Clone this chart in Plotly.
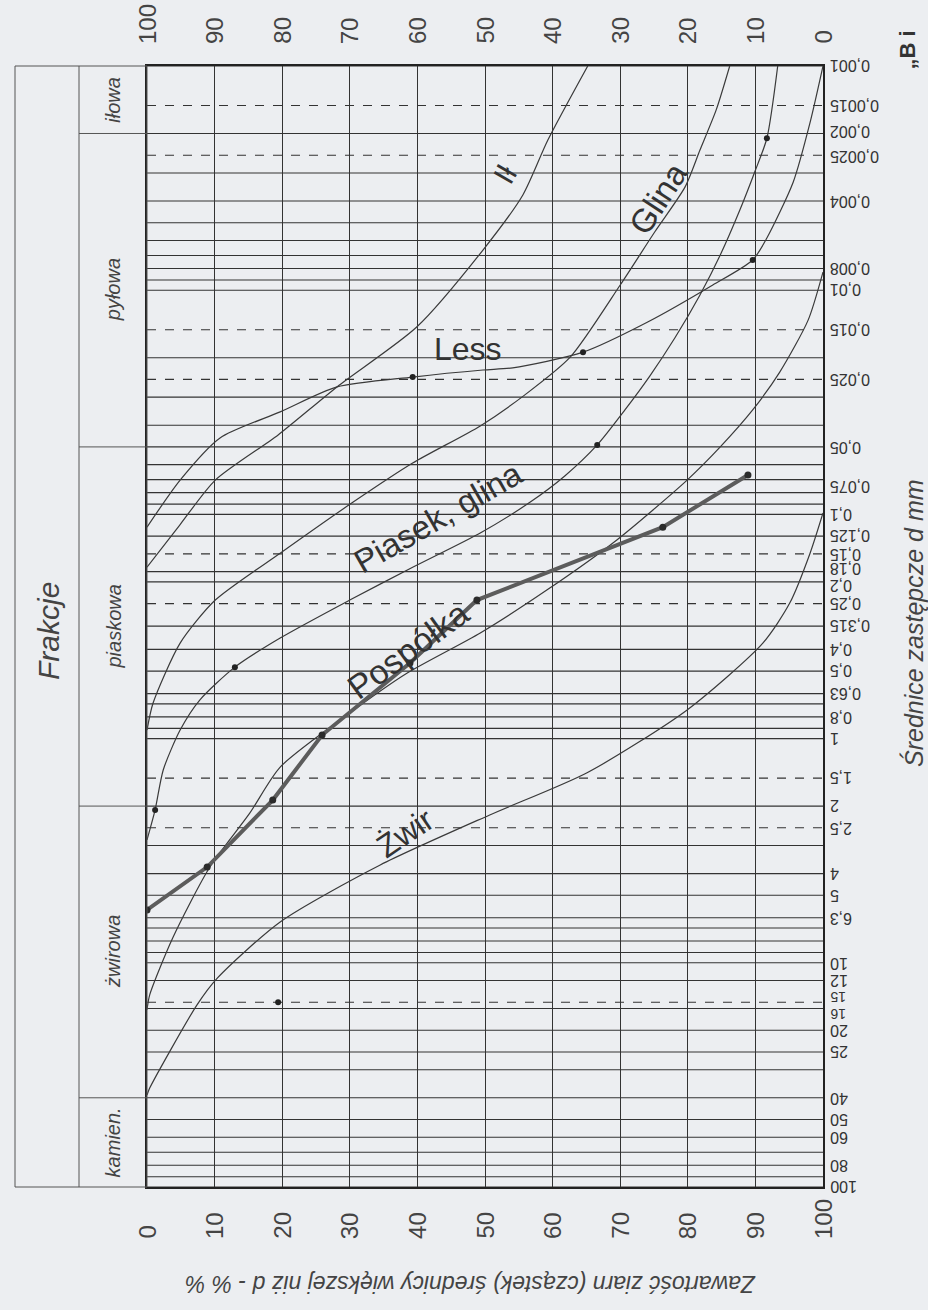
import math
import plotly.graph_objects as go

# ---------------- data ----------------
# percent axis (bottom: % larger than d; top: complement)
pct_ticks = [0, 10, 20, 30, 40, 50, 60, 70, 80, 90, 100]

# horizontal grid lines (grain diameter, mm)
grid_solid = [0.001, 0.002, 0.003, 0.004, 0.005, 0.006, 0.007, 0.008, 0.009,
              0.01, 0.02, 0.03, 0.04, 0.05, 0.06, 0.07, 0.08, 0.09,
              0.1, 0.125, 0.18, 0.2, 0.315, 0.4, 0.5, 0.63, 0.7, 0.8, 0.9,
              1, 2, 3, 4, 5, 6.3, 7, 8, 9,
              10, 12, 16, 20, 25, 30, 40, 50, 60, 70, 80, 90, 100]
grid_dashed = [0.0015, 0.0025, 0.015, 0.025, 0.15, 0.25, 1.5, 2.5, 15]

diam_tick_vals = [0.001, 0.0015, 0.002, 0.0025, 0.004, 0.008, 0.01, 0.015, 0.025,
                  0.05, 0.075, 0.1, 0.125, 0.15, 0.18, 0.2, 0.25, 0.315, 0.4, 0.5,
                  0.63, 0.8, 1, 1.5, 2, 2.5, 4, 5, 6.3, 10, 12, 15, 16, 20, 25,
                  40, 50, 60, 80, 100]
diam_tick_text = ["0,001", "0,0015", "0,002", "0,0025", "0,004", "0,008", "0,01",
                  "0,015", "0,025", "0,05", "0,075", "0,1", "0,125", "0,15", "0,18",
                  "0,2", "0,25", "0,315", "0,4", "0,5", "0,63", "0,8", "1", "1,5",
                  "2", "2,5", "4", "5", "6,3", "10", "12", "15", "16", "20", "25",
                  "40", "50", "60", "80", "100"]

# fractions (Frakcje)
fraction_bounds = [0.001, 0.002, 0.05, 2, 40, 100]
fraction_names = ["iłowa", "pyłowa", "piaskowa", "żwirowa", "kamien."]

# grading curves: % of grains larger than d  vs  d [mm]
il_pct = [65.2, 59.3, 55.6, 49.7, 39.9, 28.1, 19.4, 10.1, 4.9, 0]
il_d = [0.001, 0.00214, 0.00376, 0.00662, 0.0146, 0.027, 0.0442, 0.0703, 0.111, 0.172]

less_pct = [100, 98.1, 95.6, 91.7, 89.6, 83.7, 74.0, 64.5, 54.1, 49.7, 39.3, 28.1, 19.7, 10.8, 4.9, 0]
less_d = [0.001, 0.00178, 0.00329, 0.00585, 0.00733, 0.00948, 0.0139, 0.0189, 0.0222,
          0.0227, 0.0244, 0.027, 0.0349, 0.0456, 0.0703, 0.114]
less_dot_pct = [89.6, 64.5, 39.3]
less_dot_d = [0.00733, 0.0189, 0.0244]

glina_pct = [86.2, 84.2, 81.8, 79.6, 75.1, 70.0, 62.6, 55.9, 49.3, 39.3, 30.5, 19.7,
             10.1, 4.9, 0.9, 0]
glina_d = [0.001, 0.00157, 0.00237, 0.00346, 0.0055, 0.00948, 0.0199, 0.0293, 0.0403,
           0.059, 0.0881, 0.149, 0.241, 0.375, 0.694, 0.916]

pg_pct = [93.3, 91.7, 89.9, 87.7, 84.8, 81.8, 78.1, 74.4, 70.7, 66.6, 61.8, 56.7, 49.3,
          39.3, 30.0, 19.7, 13.0, 7.8, 4.9, 2.4, 1.2, 0]
pg_d = [0.001, 0.0021, 0.00297, 0.00439, 0.00697, 0.0105, 0.0163, 0.0241, 0.0342, 0.049,
        0.0674, 0.0881, 0.121, 0.172, 0.241, 0.356, 0.48, 0.673, 0.916, 1.38, 2.08, 2.83]
pg_dot_pct = [91.7, 66.6, 13.0, 1.2]
pg_dot_d = [0.0021, 0.049, 0.48, 2.08]

pospolka_pct = [88.9, 76.3, 48.8, 38.9, 25.9, 18.6, 8.9, 0]
pospolka_d = [0.0667, 0.114, 0.241, 0.46, 0.964, 1.88, 3.74, 5.81]

c4_pct = [100, 97.8, 93.6, 89.6, 84.8, 79.9, 69.5, 59.2, 49.3, 38.5, 30.0, 19.7, 15.2,
          9.3, 3.8, 0.4, 0]
c4_d = [0.0083, 0.0136, 0.0232, 0.0342, 0.050, 0.0703, 0.130, 0.217, 0.338, 0.51, 0.769,
        1.34, 2.15, 3.74, 7.75, 13.9, 16.2]

zwir_pct = [100, 98.1, 95.1, 91.1, 79.9, 65.1, 50.7, 34.5, 19.7, 10.4, 7.4, 0.4, 0]
zwir_d = [0.0986, 0.1486, 0.248, 0.375, 0.745, 1.42, 2.19, 3.66, 6.57, 11.7, 15.4, 36.2, 38.9]

stray_pct = [19.4]
stray_d = [15.0]

curve_labels = ["Ił", "Glina", "Less", "Piasek, glina", "Pospółka", "Żwir"]
# ---------------------------------------

INK = "#333333"
PAPER = "#eceef1"
FONT = "Liberation Sans, Arial, sans-serif"
YLOG_MIN, YLOG_MAX = -3, 2          # log10 of 0.001 and 100

L, T = 147, 66
W, H = 676, 1121


def px2paper_x(px):
    return (px - L) / W


def px2paper_y(py):
    return (T + H - py) / H


def d2paper_y(d):
    return (YLOG_MAX - math.log10(d)) / (YLOG_MAX - YLOG_MIN)


fig = go.Figure()

# horizontal grid lines as traces
def hlines(vals):
    xs, ys = [], []
    for v in vals:
        xs += [0, 100, None]
        ys += [v, v, None]
    return xs, ys

gx, gy = hlines(grid_solid)
fig.add_trace(go.Scatter(x=gx, y=gy, mode="lines", line=dict(color=INK, width=1.1),
                         hoverinfo="skip", showlegend=False))
gx, gy = hlines(grid_dashed)
fig.add_trace(go.Scatter(x=gx, y=gy, mode="lines",
                         line=dict(color=INK, width=1.1, dash="dash"),
                         hoverinfo="skip", showlegend=False))

thin = dict(color="#3a3a3a", width=1.2, shape="spline", smoothing=0.7)
for px_, d_ in [(il_pct, il_d), (less_pct, less_d), (glina_pct, glina_d),
                (pg_pct, pg_d), (c4_pct, c4_d), (zwir_pct, zwir_d)]:
    fig.add_trace(go.Scatter(x=px_, y=d_, mode="lines", line=thin,
                             hoverinfo="skip", showlegend=False))

fig.add_trace(go.Scatter(x=pospolka_pct, y=pospolka_d, mode="lines+markers",
                         line=dict(color="#5c5c5c", width=4),
                         marker=dict(color="#2b2b2b", size=7),
                         showlegend=False))
for px_, d_ in [(less_dot_pct, less_dot_d), (pg_dot_pct, pg_dot_d), (stray_pct, stray_d)]:
    fig.add_trace(go.Scatter(x=px_, y=d_, mode="markers",
                             marker=dict(color="#222222", size=6), showlegend=False))

shapes = []
# left "Frakcje" panel
panel_left = px2paper_x(15)
panel_mid = px2paper_x(79)
shapes.append(dict(type="rect", xref="paper", yref="paper", x0=panel_left, x1=0,
                   y0=0, y1=1, line=dict(color="#555555", width=1)))
shapes.append(dict(type="line", xref="paper", yref="paper", x0=panel_mid, x1=panel_mid,
                   y0=0, y1=1, line=dict(color="#555555", width=1)))
for b in fraction_bounds[1:-1]:
    yb = d2paper_y(b)
    shapes.append(dict(type="line", xref="paper", yref="paper", x0=panel_mid, x1=0,
                       y0=yb, y1=yb, line=dict(color="#555555", width=1)))

ann = []
# fraction names
for i, name in enumerate(fraction_names):
    ymid = (d2paper_y(fraction_bounds[i]) + d2paper_y(fraction_bounds[i + 1])) / 2
    ann.append(dict(x=px2paper_x(113), xref="paper", xanchor="center",
                    y=ymid, yref="paper", yanchor="middle",
                    text="<i>" + name + "</i>", textangle=-90, showarrow=False,
                    font=dict(size=20, color="#444444")))
ann.append(dict(x=px2paper_x(48), xref="paper", xanchor="center",
                y=px2paper_y(631), yref="paper", yanchor="middle",
                text="<i>Frakcje</i>", textangle=-90, showarrow=False,
                font=dict(size=30, color="#444444")))

# percent labels bottom / top
for v in pct_ticks:
    ann.append(dict(x=v, xref="x", xanchor="center", y=0, yref="paper",
                    yanchor="bottom", yshift=-54,
                    text=str(v), textangle=-90, showarrow=False,
                    font=dict(size=24, color="#444444")))
    ann.append(dict(x=v, xref="x", xanchor="center", y=1, yref="paper",
                    yanchor="bottom", yshift=20,
                    text=str(100 - v), textangle=-90, showarrow=False,
                    font=dict(size=24, color="#444444")))

# diameter labels (upside down)
nudge = {"0,18": 3, "0,2": -3, "15": 6, "16": -6, "0,002": 2, "0,0025": -2}
small = {"15", "16"}
for v, t in zip(diam_tick_vals, diam_tick_text):
    ann.append(dict(x=1, xref="paper", xanchor="left", xshift=5,
                    y=d2paper_y(v), yref="paper", yanchor="middle",
                    yshift=nudge.get(t, 0),
                    text=t, textangle=180, showarrow=False,
                    font=dict(size=14 if t in small else 16, color="#333333")))

# axis titles
ann.append(dict(x=px2paper_x(913), xref="paper", xanchor="center",
                y=px2paper_y(623), yref="paper", yanchor="middle",
                text="<i>Średnice zastępcze d mm</i>", textangle=-90, showarrow=False,
                font=dict(size=25, color="#444444")))
ann.append(dict(x=px2paper_x(471), xref="paper", xanchor="center",
                y=px2paper_y(1284), yref="paper", yanchor="middle",
                text="<i>Zawartość ziarn (cząstek) średnicy większej niż d - % %</i>",
                textangle=180, showarrow=False, font=dict(size=23, color="#444444")))
ann.append(dict(x=px2paper_x(907), xref="paper", xanchor="center",
                y=px2paper_y(72), yref="paper", yanchor="bottom",
                text="<b>„B i</b>", textangle=-90, showarrow=False,
                font=dict(size=22, color="#333333")))

# curve labels
label_pos = [(53.0, -2.514, -60, 30), (75.6, -2.411, -57, 33), (47.5, -1.738, 0, 32),
             (43.0, -0.988, -30, 33), (38.6, -0.395, -36, 34), (38.2, 0.421, -34, 32)]
for txt, (lx, ly, ang, fs) in zip(curve_labels, label_pos):
    ann.append(dict(x=lx, xref="x", xanchor="center", y=ly, yref="y", yanchor="middle",
                    text=txt, textangle=ang,
                    showarrow=False, font=dict(size=fs, color="#333333")))

fig.update_layout(
    width=928, height=1310,
    margin=dict(l=L, r=928 - L - W, t=T, b=1310 - T - H),
    paper_bgcolor=PAPER, plot_bgcolor=PAPER,
    font=dict(family=FONT, color=INK),
    shapes=shapes, annotations=ann, showlegend=False,
    xaxis=dict(range=[0, 100], dtick=10, showgrid=True, gridcolor=INK, gridwidth=1.1,
               showticklabels=False, zeroline=False, showline=True, mirror=True,
               linecolor="#222222", linewidth=1.5, ticks=""),
    yaxis=dict(type="log", range=[YLOG_MAX, YLOG_MIN], showgrid=False,
               showticklabels=False, zeroline=False, showline=True, mirror=True,
               linecolor="#222222", linewidth=1.5, ticks=""),
)

fig.write_html("out.html", config={"displayModeBar": False},
               post_script="document.body.style.margin='0';document.body.style.background='" + PAPER + "';")
